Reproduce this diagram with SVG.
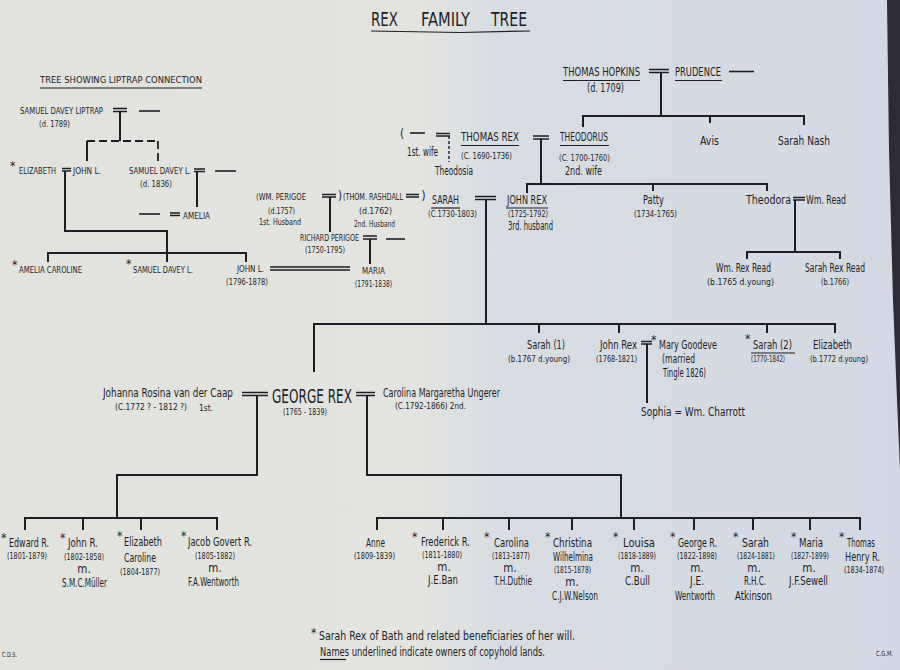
<svg xmlns="http://www.w3.org/2000/svg" width="900" height="670" viewBox="0 0 900 670">
<defs>
<linearGradient id="bg" x1="0" y1="0" x2="1" y2="0">
<stop offset="0" stop-color="#e2e3dd"/>
<stop offset="0.47" stop-color="#e3e4e0"/>
<stop offset="0.55" stop-color="#d8dde4"/>
<stop offset="1" stop-color="#d3d9e2"/>
</linearGradient>
<style>
text{font-family:"DejaVu Sans Condensed","Liberation Sans Narrow","Liberation Sans",sans-serif;fill:#1d1d26;}
.n{font-size:11.5px}
.d{font-size:9px}
.c{font-size:9.5px}
.a{font-size:12px}
.t{font-size:20px}
.sm{font-size:7px}
.l{stroke:#1d1d26;stroke-width:2;fill:none}
.m{stroke:#1d1d26;stroke-width:1.6;fill:none}
.u{stroke:#1d1d26;stroke-width:1.2;fill:none}
.dash{stroke:#1d1d26;stroke-width:1.8;fill:none;stroke-dasharray:8 4}
.dot{stroke:#1d1d26;stroke-width:1.4;fill:none;stroke-dasharray:3 2}
</style>
</defs>
<rect width="900" height="670" fill="url(#bg)"/>
<polygon points="887,0 900,0 900,470 897,400 893,300 889,150" fill="#2d2b33"/>

<g id="title">
<text class="t" x="371" y="26" textLength="27" lengthAdjust="spacingAndGlyphs">REX</text>
<text class="t" x="421" y="26" textLength="49" lengthAdjust="spacingAndGlyphs">FAMILY</text>
<text class="t" x="491" y="26" textLength="36" lengthAdjust="spacingAndGlyphs">TREE</text>
<path class="u" d="M371 31 L460 32.5 L530 31" stroke-width="1.6"/>
</g>

<g id="liptrap-heading">
<text class="c" x="40" y="83" textLength="162" lengthAdjust="spacingAndGlyphs">TREE SHOWING LIPTRAP CONNECTION</text>
<line class="u" x1="40" y1="88" x2="202" y2="88" stroke-width="1.5"/>
</g>

<g id="connectors">
<!-- Liptrap tree -->
<path class="m" d="M113 108.5H127M113 111.5H127"/>
<line class="m" x1="139" y1="111" x2="160" y2="111"/>
<path class="l" d="M120 111V141"/>
<path class="dash" d="M87 141H158"/>
<path class="l" d="M87 141V161"/>
<path class="dash" d="M158 141V161" stroke-dasharray="5 3"/>
<path class="m" d="M62 168.5H71M62 171H71"/>
<path class="l" d="M65 171V231H167V262"/>
<path class="m" d="M194 169H205M194 171.5H205"/>
<path class="l" d="M197 171V207"/>
<line class="m" x1="215" y1="171" x2="236" y2="171"/>
<line class="m" x1="139" y1="214" x2="160" y2="214"/>
<path class="m" d="M170 213H180M170 215.5H180"/>
<path class="l" d="M48 262V253H246V262"/>
<path class="m" d="M270 267H350M270 270H350"/>
<path class="m" d="M322 194.5H336M322 197H336"/>
<path class="l" d="M330 197V232"/>
<path class="m" d="M406 194.5H419M406 197H419"/>
<path class="m" d="M363 236H377M363 239H377"/>
<path class="l" d="M370 239V264"/>
<line class="m" x1="386" y1="239" x2="405" y2="239"/>
<!-- Thomas Rex / Hopkins -->
<line class="m" x1="410" y1="133" x2="425" y2="133"/>
<path class="m" d="M436 133.5H450M436 136H450"/>
<path class="dot" d="M449 136V162"/>
<path class="m" d="M533 136H549M533 139H549"/>
<path class="l" d="M541 139V184"/>
<path class="l" d="M527 193V184H767V191M653 184V191"/>
<path class="m" d="M649 69.5H669M649 72.5H669"/>
<path class="l" d="M661 72V116"/>
<line class="m" x1="729" y1="71.5" x2="754" y2="71.5"/>
<path class="l" d="M583 127V116H804V125M710 116V123"/>
<!-- Sarah = John Rex -->
<path class="m" d="M475 196.5H496M475 199.5H496"/>
<path class="l" d="M486 199V324"/>
<path class="m" d="M793 197.5H805M793 200H805"/>
<path class="l" d="M795 200V252"/>
<path class="l" d="M747 259V252H840V259"/>
<path class="l" d="M314 372V324H835V333M539 324V333M619 324V333M767 324V333"/>
<path class="m" d="M641 341.5H652M641 344H652"/>
<path class="l" d="M647 344V403"/>
<!-- George Rex -->
<path class="m" d="M242 392.5H268M242 395.5H268"/>
<path class="m" d="M356 392.5H375M356 395.5H375"/>
<path class="l" d="M257 395V475H117V518"/>
<path class="l" d="M25 530V518H217V530M83 518V530M141 518V530"/>
<path class="l" d="M367 395V475H621V518"/>
<path class="l" d="M377 530V518H860V530M443 518V530M509 518V530M572 518V530M634 518V530M694 518V530M753 518V530M810 518V530"/>
</g>

<g id="samuel-davey-liptrap">
<text class="c" x="20" y="114" textLength="83" lengthAdjust="spacingAndGlyphs">SAMUEL DAVEY LIPTRAP</text>
<text class="c" x="39" y="127" textLength="31" lengthAdjust="spacingAndGlyphs">(d. 1789)</text>
</g>
<g id="elizabeth-liptrap">
<text class="a" x="10" y="170">*</text>
<text class="c" x="19" y="174" textLength="37" lengthAdjust="spacingAndGlyphs">ELIZABETH</text>
</g>
<g id="john-l">
<text class="c" x="73" y="174" textLength="28" lengthAdjust="spacingAndGlyphs">JOHN L.</text>
</g>
<g id="samuel-davey-l">
<text class="c" x="129" y="174" textLength="62" lengthAdjust="spacingAndGlyphs">SAMUEL DAVEY L.</text>
<text class="c" x="140" y="187" textLength="32" lengthAdjust="spacingAndGlyphs">(d. 1836)</text>
</g>
<g id="amelia">
<text class="c" x="183" y="219" textLength="27" lengthAdjust="spacingAndGlyphs">AMELIA</text>
</g>
<g id="amelia-caroline">
<text class="a" x="12" y="269">*</text>
<text class="c" x="19" y="273" textLength="63" lengthAdjust="spacingAndGlyphs">AMELIA CAROLINE</text>
</g>
<g id="samuel-davey-l-2">
<text class="a" x="126" y="268">*</text>
<text class="c" x="133" y="273" textLength="60" lengthAdjust="spacingAndGlyphs">SAMUEL DAVEY L.</text>
</g>
<g id="john-l-2">
<text class="c" x="237" y="272" textLength="27" lengthAdjust="spacingAndGlyphs">JOHN L.</text>
<text class="c" x="226" y="285" textLength="42" lengthAdjust="spacingAndGlyphs">(1796-1878)</text>
</g>
<g id="maria-perigoe">
<text class="c" x="362" y="274" textLength="23" lengthAdjust="spacingAndGlyphs">MARIA</text>
<text class="c" x="355" y="287" textLength="37" lengthAdjust="spacingAndGlyphs">(1791-1838)</text>
</g>
<g id="wm-perigoe">
<text class="c" x="256" y="200" textLength="50" lengthAdjust="spacingAndGlyphs">(WM. PERIGOE</text>
<text class="c" x="268" y="214" textLength="27" lengthAdjust="spacingAndGlyphs">(d.1757)</text>
<text class="d" x="259" y="225" textLength="42" lengthAdjust="spacingAndGlyphs">1st. Husband</text>
<text class="n" x="338" y="200">)</text>
</g>
<g id="thom-rashdall">
<text class="c" x="343" y="200" textLength="60" lengthAdjust="spacingAndGlyphs" style="font-size:8.6px">(THOM. RASHDALL</text>
<text class="n" x="421.5" y="200">)</text>
<text class="c" x="359" y="214" textLength="33" lengthAdjust="spacingAndGlyphs">(d.1762)</text>
<text class="d" x="354" y="227" textLength="41" lengthAdjust="spacingAndGlyphs">2nd. Husband</text>
</g>
<g id="richard-perigoe">
<text class="c" x="300" y="241" textLength="59" lengthAdjust="spacingAndGlyphs">RICHARD PERIGOE</text>
<text class="c" x="305" y="253" textLength="40" lengthAdjust="spacingAndGlyphs">(1750-1795)</text>
</g>

<g id="first-wife-thomas">
<text class="n" x="400" y="138">(</text>
<text class="n" x="407" y="156" textLength="31" lengthAdjust="spacingAndGlyphs">1st. wife</text>
</g>
<g id="thomas-rex">
<text class="n" x="461" y="141" textLength="58" lengthAdjust="spacingAndGlyphs">THOMAS REX</text>
<line class="u" x1="461" y1="145.5" x2="519" y2="145.5"/>
<text class="d" x="461" y="159" textLength="51" lengthAdjust="spacingAndGlyphs">(C. 1690-1736)</text>
</g>
<g id="theodosia">
<text class="n" x="435" y="175" textLength="38" lengthAdjust="spacingAndGlyphs">Theodosia</text>
</g>
<g id="theodorus">
<text class="n" x="560" y="141" textLength="48" lengthAdjust="spacingAndGlyphs">THEODORUS</text>
<line class="u" x1="560" y1="145.5" x2="609" y2="145.5"/>
<text class="d" x="559" y="161" textLength="51" lengthAdjust="spacingAndGlyphs">(C. 1700-1760)</text>
<text class="n" x="565" y="175" textLength="37" lengthAdjust="spacingAndGlyphs">2nd. wife</text>
</g>
<g id="thomas-hopkins">
<text class="n" x="563" y="76" textLength="77" lengthAdjust="spacingAndGlyphs">THOMAS HOPKINS</text>
<line class="u" x1="563" y1="80.5" x2="640" y2="80.5"/>
<text class="n" x="587" y="92" textLength="37" lengthAdjust="spacingAndGlyphs">(d. 1709)</text>
</g>
<g id="prudence">
<text class="n" x="675" y="76" textLength="46" lengthAdjust="spacingAndGlyphs">PRUDENCE</text>
<line class="u" x1="675" y1="80.5" x2="722" y2="80.5"/>
</g>
<g id="avis">
<text class="n" x="700" y="145" textLength="19" lengthAdjust="spacingAndGlyphs">Avis</text>
</g>
<g id="sarah-nash">
<text class="n" x="778" y="145" textLength="52" lengthAdjust="spacingAndGlyphs">Sarah Nash</text>
</g>
<g id="sarah">
<text class="n" x="432" y="204" textLength="27" lengthAdjust="spacingAndGlyphs">SARAH</text>
<line class="u" x1="431" y1="208" x2="460" y2="208"/>
<text class="d" x="428" y="217" textLength="49" lengthAdjust="spacingAndGlyphs">(C.1730-1803)</text>
</g>
<g id="john-rex">
<text class="n" x="507" y="204" textLength="40" lengthAdjust="spacingAndGlyphs">JOHN REX</text>
<line class="u" x1="506" y1="208" x2="548" y2="208"/>
<text class="d" x="508" y="217" textLength="40" lengthAdjust="spacingAndGlyphs">(1725-1792)</text>
<text class="n" x="508" y="230" textLength="45" lengthAdjust="spacingAndGlyphs">3rd. husband</text>
</g>
<g id="patty">
<text class="n" x="643" y="204" textLength="21" lengthAdjust="spacingAndGlyphs">Patty</text>
<text class="c" x="634" y="217" textLength="43" lengthAdjust="spacingAndGlyphs">(1734-1765)</text>
</g>
<g id="theodora">
<text class="n" x="746" y="204" textLength="45" lengthAdjust="spacingAndGlyphs">Theodora</text>
</g>
<g id="wm-read">
<text class="n" x="806" y="204" textLength="40" lengthAdjust="spacingAndGlyphs">Wm. Read</text>
</g>
<g id="wm-rex-read">
<text class="n" x="716" y="272" textLength="55" lengthAdjust="spacingAndGlyphs">Wm. Rex Read</text>
<text class="c" x="707" y="285" textLength="67" lengthAdjust="spacingAndGlyphs">(b.1765 d.young)</text>
</g>
<g id="sarah-rex-read">
<text class="n" x="805" y="272" textLength="60" lengthAdjust="spacingAndGlyphs">Sarah Rex Read</text>
<text class="c" x="821" y="285" textLength="28" lengthAdjust="spacingAndGlyphs">(b.1766)</text>
</g>

<g id="sarah-1">
<text class="n" x="527" y="349" textLength="38" lengthAdjust="spacingAndGlyphs">Sarah (1)</text>
<text class="c" x="508" y="362" textLength="62" lengthAdjust="spacingAndGlyphs">(b.1767 d.young)</text>
</g>
<g id="john-rex-2">
<text class="n" x="600" y="349" textLength="37" lengthAdjust="spacingAndGlyphs">John Rex</text>
<text class="sm" x="596" y="362" textLength="41" lengthAdjust="spacingAndGlyphs" style="font-size:8.5px">(1768-1821)</text>
</g>
<g id="mary-goodeve">
<text class="a" x="651" y="344">*</text>
<text class="n" x="659" y="349" textLength="58" lengthAdjust="spacingAndGlyphs">Mary Goodeve</text>
<text class="n" x="662" y="363" textLength="33" lengthAdjust="spacingAndGlyphs">(married</text>
<text class="n" x="663" y="377" textLength="43" lengthAdjust="spacingAndGlyphs">Tingle 1826)</text>
</g>
<g id="sophia">
<text class="n" x="641" y="416" textLength="104" lengthAdjust="spacingAndGlyphs">Sophia = Wm. Charrott</text>
</g>
<g id="sarah-2">
<text class="a" x="745" y="343">*</text>
<text class="n" x="753" y="349" textLength="39" lengthAdjust="spacingAndGlyphs">Sarah (2)</text>
<line class="u" x1="751" y1="353" x2="795" y2="353"/>
<text class="sm" x="751" y="362" textLength="34" lengthAdjust="spacingAndGlyphs" style="font-size:8px">(1770-1842)</text>
</g>
<g id="elizabeth-1772">
<text class="n" x="813" y="349" textLength="39" lengthAdjust="spacingAndGlyphs">Elizabeth</text>
<text class="c" x="810" y="362" textLength="58" lengthAdjust="spacingAndGlyphs">(b.1772 d.young)</text>
</g>

<g id="johanna">
<text class="n" x="103" y="396.5" textLength="130" lengthAdjust="spacingAndGlyphs">Johanna Rosina van der Caap</text>
<text class="c" x="115" y="410" textLength="72" lengthAdjust="spacingAndGlyphs">(C.1772 ? - 1812 ?)</text>
<text class="c" x="199" y="410.5" textLength="14" lengthAdjust="spacingAndGlyphs">1st.</text>
</g>
<g id="george-rex">
<text x="272" y="403" textLength="80" lengthAdjust="spacingAndGlyphs" style="font-size:19px">GEORGE REX</text>
<text class="d" x="283" y="415" textLength="44" lengthAdjust="spacingAndGlyphs">(1765 - 1839)</text>
</g>
<g id="carolina-ungerer">
<text class="n" x="383" y="397" textLength="117" lengthAdjust="spacingAndGlyphs">Carolina Margaretha Ungerer</text>
<text class="c" x="395" y="409" textLength="71" lengthAdjust="spacingAndGlyphs">(C.1792-1866) 2nd.</text>
</g>

<g id="edward-r">
<text class="a" x="1" y="542">*</text>
<text class="n" x="9" y="547" textLength="40" lengthAdjust="spacingAndGlyphs">Edward R.</text>
<text class="d" x="7" y="559" textLength="40" lengthAdjust="spacingAndGlyphs">(1801-1879)</text>
</g>
<g id="john-r">
<text class="a" x="60" y="542">*</text>
<text class="n" x="68" y="547" textLength="30" lengthAdjust="spacingAndGlyphs">John R.</text>
<text class="d" x="64" y="560" textLength="40" lengthAdjust="spacingAndGlyphs">(1802-1858)</text>
<text class="n" x="84" y="573" text-anchor="middle">m.</text>
<text class="n" x="62" y="587" textLength="45" lengthAdjust="spacingAndGlyphs">S.M.C.Müller</text>
</g>
<g id="elizabeth-caroline">
<text class="a" x="117" y="540">*</text>
<text class="n" x="124" y="546" textLength="38" lengthAdjust="spacingAndGlyphs">Elizabeth</text>
<text class="n" x="124" y="562" textLength="32" lengthAdjust="spacingAndGlyphs">Caroline</text>
<text class="d" x="120" y="575" textLength="40" lengthAdjust="spacingAndGlyphs">(1804-1877)</text>
</g>
<g id="jacob-govert-r">
<text class="a" x="181" y="540">*</text>
<text class="n" x="188" y="546" textLength="64" lengthAdjust="spacingAndGlyphs">Jacob Govert R.</text>
<text class="d" x="195" y="559" textLength="40" lengthAdjust="spacingAndGlyphs">(1805-1882)</text>
<text class="n" x="215" y="572" text-anchor="middle">m.</text>
<text class="n" x="188" y="586" textLength="51" lengthAdjust="spacingAndGlyphs">F.A.Wentworth</text>
</g>

<g id="anne">
<text class="n" x="366" y="547" textLength="19" lengthAdjust="spacingAndGlyphs">Anne</text>
<text class="d" x="354" y="559" textLength="41" lengthAdjust="spacingAndGlyphs">(1809-1839)</text>
</g>
<g id="frederick-r">
<text class="a" x="412" y="541">*</text>
<text class="n" x="421" y="546" textLength="49" lengthAdjust="spacingAndGlyphs">Frederick R.</text>
<text class="d" x="422" y="558" textLength="40" lengthAdjust="spacingAndGlyphs">(1811-1880)</text>
<text class="n" x="444" y="571" text-anchor="middle">m.</text>
<text class="n" x="428" y="584" textLength="30" lengthAdjust="spacingAndGlyphs">J.E.Ban</text>
</g>
<g id="carolina">
<text class="a" x="484" y="541">*</text>
<text class="n" x="494" y="547" textLength="35" lengthAdjust="spacingAndGlyphs">Carolina</text>
<text class="d" x="492" y="559" textLength="38" lengthAdjust="spacingAndGlyphs">(1813-1877)</text>
<text class="n" x="510" y="572" text-anchor="middle">m.</text>
<text class="n" x="494" y="585" textLength="38" lengthAdjust="spacingAndGlyphs">T.H.Duthie</text>
</g>
<g id="christina">
<text class="a" x="545" y="541">*</text>
<text class="n" x="553" y="547" textLength="39" lengthAdjust="spacingAndGlyphs">Christina</text>
<text class="n" x="553" y="561" textLength="40" lengthAdjust="spacingAndGlyphs">Wilhelmina</text>
<text class="d" x="554" y="573" textLength="37" lengthAdjust="spacingAndGlyphs">(1815-1878)</text>
<text class="n" x="572" y="586" text-anchor="middle">m.</text>
<text class="n" x="552" y="600" textLength="46" lengthAdjust="spacingAndGlyphs">C.J.W.Nelson</text>
</g>
<g id="louisa">
<text class="a" x="613" y="541">*</text>
<text class="n" x="623" y="547" textLength="32" lengthAdjust="spacingAndGlyphs">Louisa</text>
<text class="d" x="618" y="559" textLength="38" lengthAdjust="spacingAndGlyphs">(1818-1889)</text>
<text class="n" x="637" y="572" text-anchor="middle">m.</text>
<text class="n" x="625" y="585" textLength="25" lengthAdjust="spacingAndGlyphs">C.Bull</text>
</g>
<g id="george-r">
<text class="a" x="670" y="541">*</text>
<text class="n" x="678" y="547" textLength="39" lengthAdjust="spacingAndGlyphs">George R.</text>
<text class="d" x="677" y="559" textLength="40" lengthAdjust="spacingAndGlyphs">(1822-1898)</text>
<text class="n" x="697" y="572" text-anchor="middle">m.</text>
<text class="n" x="690" y="585" textLength="14" lengthAdjust="spacingAndGlyphs">J.E.</text>
<text class="n" x="675" y="600" textLength="40" lengthAdjust="spacingAndGlyphs">Wentworth</text>
</g>
<g id="sarah-1824">
<text class="a" x="733" y="541">*</text>
<text class="n" x="742" y="547" textLength="27" lengthAdjust="spacingAndGlyphs">Sarah</text>
<text class="d" x="737" y="559" textLength="38" lengthAdjust="spacingAndGlyphs">(1824-1881)</text>
<text class="n" x="754" y="572" text-anchor="middle">m.</text>
<text class="n" x="744" y="585" textLength="22" lengthAdjust="spacingAndGlyphs">R.H.C.</text>
<text class="n" x="735" y="600" textLength="37" lengthAdjust="spacingAndGlyphs">Atkinson</text>
</g>
<g id="maria">
<text class="a" x="791" y="541">*</text>
<text class="n" x="799" y="547" textLength="24" lengthAdjust="spacingAndGlyphs">Maria</text>
<text class="d" x="791" y="559" textLength="38" lengthAdjust="spacingAndGlyphs">(1827-1899)</text>
<text class="n" x="809" y="572" text-anchor="middle">m.</text>
<text class="n" x="789" y="585" textLength="39" lengthAdjust="spacingAndGlyphs">J.F.Sewell</text>
</g>
<g id="thomas-henry-r">
<text class="a" x="839" y="541">*</text>
<text class="n" x="847" y="547" textLength="28" lengthAdjust="spacingAndGlyphs">Thomas</text>
<text class="n" x="845" y="561" textLength="35" lengthAdjust="spacingAndGlyphs">Henry R.</text>
<text class="d" x="844" y="573" textLength="40" lengthAdjust="spacingAndGlyphs">(1834-1874)</text>
</g>

<g id="footer">
<text class="a" x="311" y="637">*</text>
<text class="n" x="319" y="640" textLength="256" lengthAdjust="spacingAndGlyphs">Sarah Rex of Bath and related beneficiaries of her will.</text>
<text class="n" x="320" y="656" textLength="225" lengthAdjust="spacingAndGlyphs">Names underlined indicate owners of copyhold lands.</text>
<line class="u" x1="320" y1="659.5" x2="346" y2="659.5" stroke-width="1.6"/>
<text class="sm" x="2" y="657" textLength="15" lengthAdjust="spacingAndGlyphs">C.D.S.</text>
<text class="sm" x="876" y="656" textLength="17" lengthAdjust="spacingAndGlyphs">C.G.M.</text>
</g>
</svg>
